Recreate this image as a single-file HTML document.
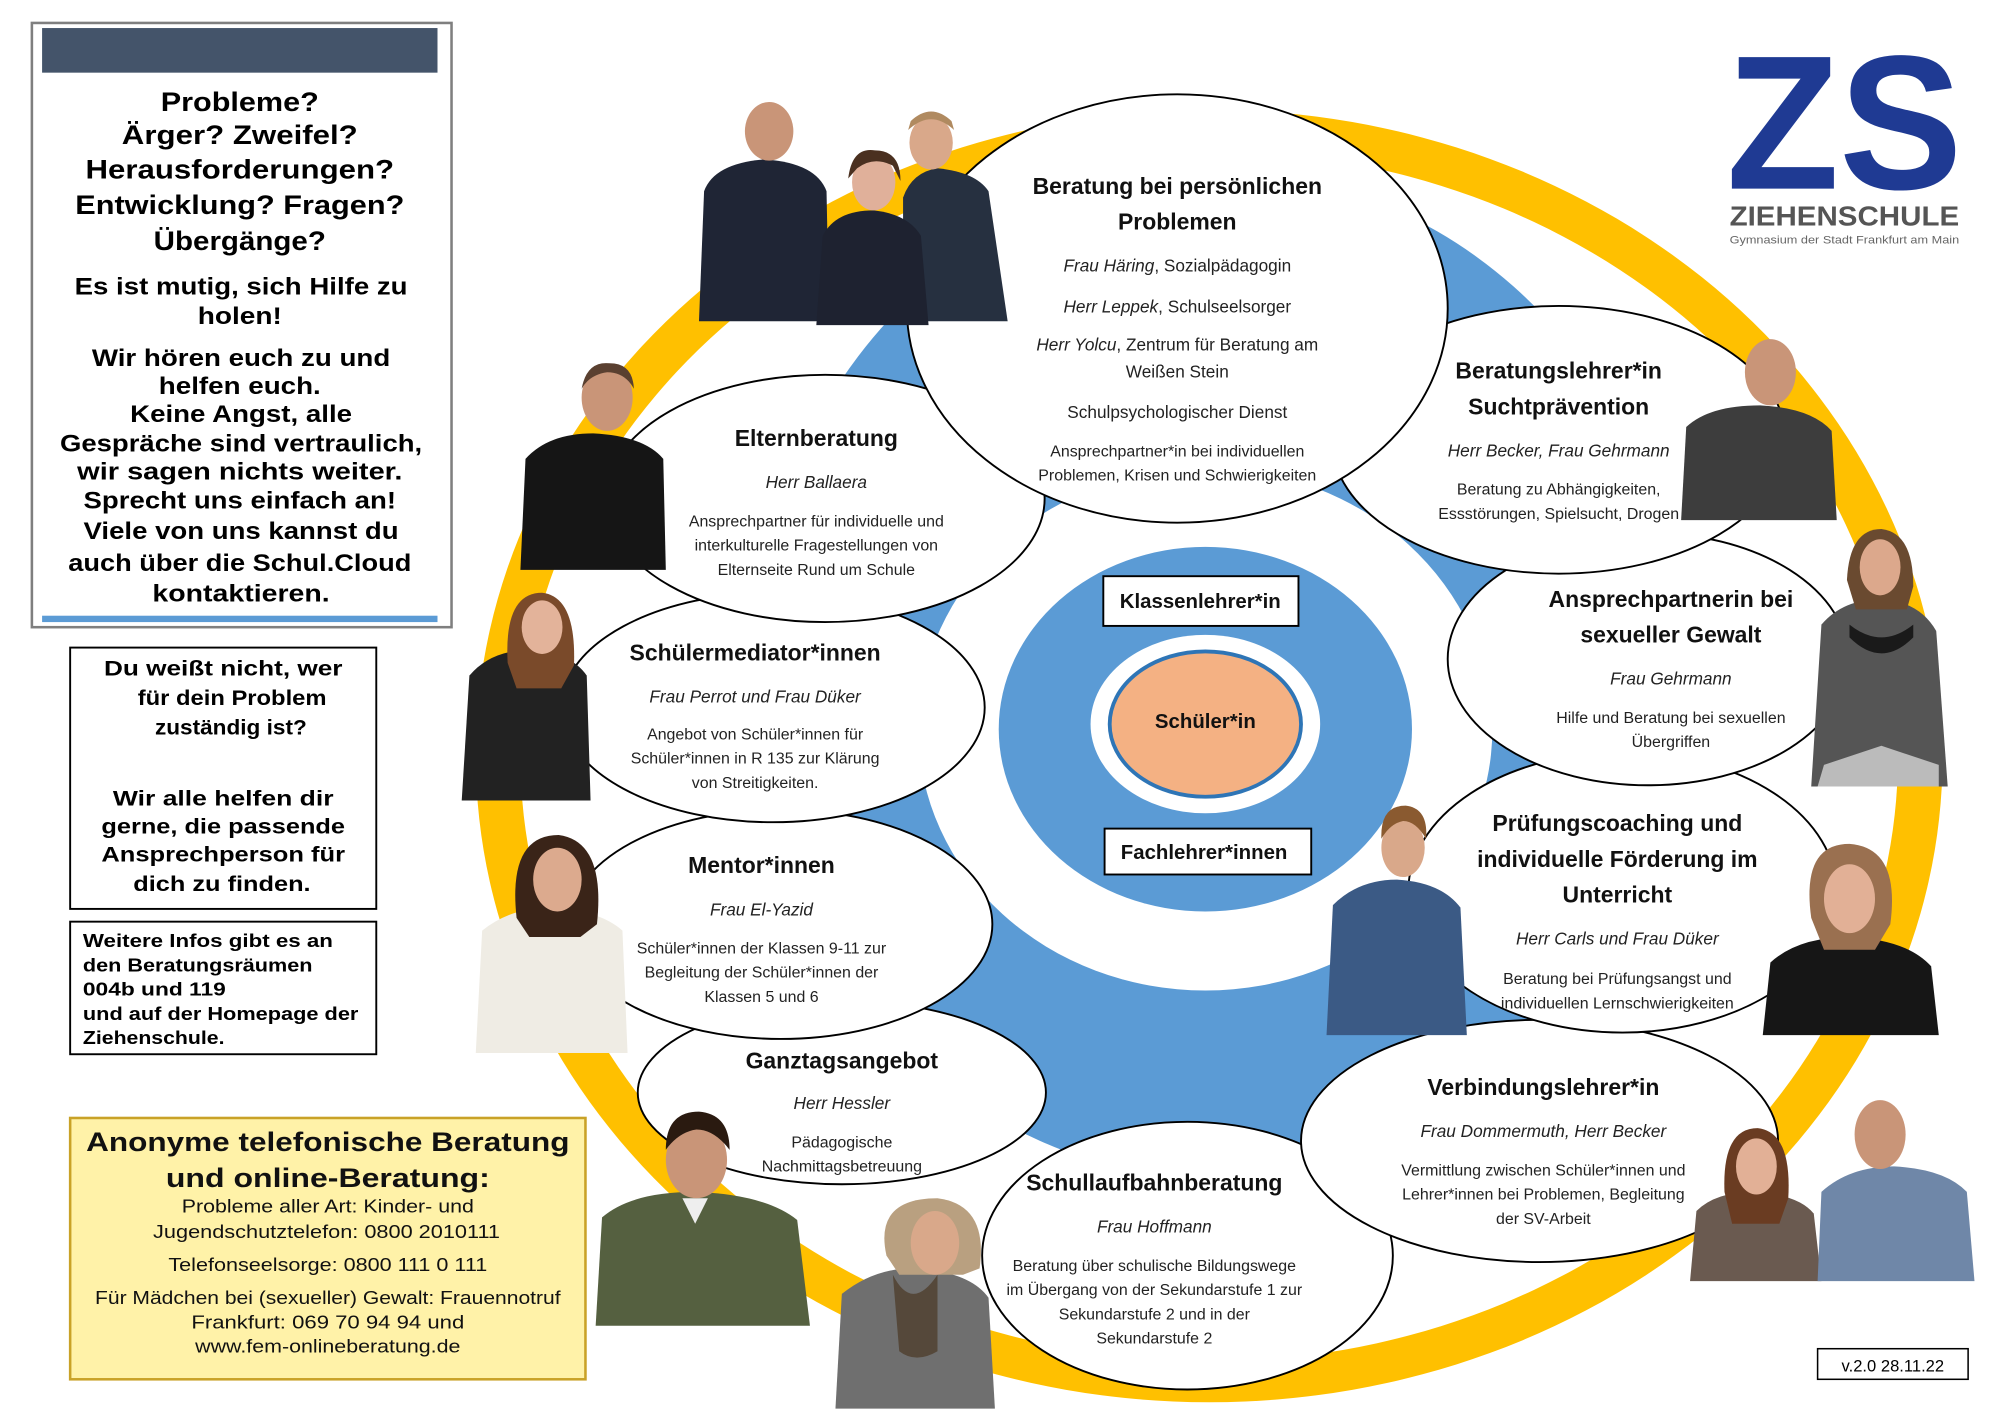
<!DOCTYPE html>
<html><head><meta charset="utf-8"><style>
html,body{margin:0;padding:0;background:#fff;}
svg{display:block;}
text{font-family:"Liberation Sans",sans-serif;}
.t{font-weight:bold;font-size:18px;text-anchor:middle;fill:#111;}
.n{font-style:italic;font-size:13.5px;text-anchor:middle;fill:#222;}
.d{font-size:12.5px;text-anchor:middle;fill:#222;}
.lb{font-weight:bold;font-size:21px;text-anchor:middle;fill:#000;}
.lb2{font-weight:bold;font-size:19px;text-anchor:middle;fill:#000;}
</style></head><body>
<svg width="2000" height="1415" viewBox="0 0 1568 1110" preserveAspectRatio="none" xmlns="http://www.w3.org/2000/svg">
<!-- ring -->
<ellipse cx="948" cy="593" rx="575" ry="507" fill="#ffc000"/>
<ellipse cx="948" cy="593" rx="540" ry="475" fill="#fff"/>
<ellipse cx="955" cy="530" rx="365" ry="395" fill="#5b9bd5"/>
<ellipse cx="945" cy="572" rx="225" ry="205" fill="#fff"/>
<ellipse cx="945" cy="572" rx="162" ry="143" fill="#5b9bd5"/>
<ellipse cx="945" cy="568" rx="90" ry="70" fill="#fff"/>
<ellipse cx="945" cy="568" rx="75" ry="57" fill="#f4b183" stroke="#2e75b6" stroke-width="3"/>
<text x="945" y="571" class="t" style="font-size:16px">Schüler*in</text>
<rect x="865" y="452" width="153" height="39" fill="#fff" stroke="#000" stroke-width="1.5"/>
<text x="941" y="477" class="t" style="font-size:16px">Klassenlehrer*in</text>
<rect x="866" y="650" width="162" height="36" fill="#fff" stroke="#000" stroke-width="1.5"/>
<text x="944" y="674" class="t" style="font-size:16px">Fachlehrer*innen</text>

<!-- ellipses -->
<g fill="#fff" stroke="#000" stroke-width="1.5">
<ellipse cx="660" cy="857" rx="160" ry="72"/>
<ellipse cx="931" cy="985" rx="161" ry="105"/>
<ellipse cx="1207" cy="895" rx="187" ry="95"/>
<ellipse cx="612" cy="725" rx="166" ry="90"/>
<ellipse cx="1272" cy="700" rx="168" ry="110"/>
<ellipse cx="606" cy="555" rx="166" ry="90"/>
<ellipse cx="1292" cy="517" rx="157" ry="99"/>
<ellipse cx="647" cy="391" rx="172" ry="97"/>
<ellipse cx="1222" cy="345" rx="178" ry="105"/>
<ellipse cx="923" cy="242" rx="212" ry="168"/>
</g>

<!-- texts in ellipses -->
<text x="923" y="152" class="t">Beratung bei persönlichen</text>
<text x="923" y="180" class="t">Problemen</text>
<text x="923" y="213" class="n">Frau Häring<tspan font-style="normal">, Sozialpädagogin</tspan></text>
<text x="923" y="245" class="n">Herr Leppek<tspan font-style="normal">, Schulseelsorger</tspan></text>
<text x="923" y="275" class="n">Herr Yolcu<tspan font-style="normal">, Zentrum für Beratung am</tspan></text>
<text x="923" y="296" class="d" style="font-size:13.5px">Weißen Stein</text>
<text x="923" y="328" class="d" style="font-size:13.5px">Schulpsychologischer Dienst</text>
<text x="923" y="358" class="d">Ansprechpartner*in bei individuellen</text>
<text x="923" y="377" class="d">Problemen, Krisen und Schwierigkeiten</text>

<text x="640" y="350" class="t">Elternberatung</text>
<text x="640" y="383" class="n">Herr Ballaera</text>
<text x="640" y="413" class="d">Ansprechpartner für individuelle und</text>
<text x="640" y="432" class="d">interkulturelle Fragestellungen von</text>
<text x="640" y="451" class="d">Elternseite Rund um Schule</text>

<text x="1222" y="297" class="t">Beratungslehrer*in</text>
<text x="1222" y="325" class="t">Suchtprävention</text>
<text x="1222" y="358" class="n">Herr Becker, Frau Gehrmann</text>
<text x="1222" y="388" class="d">Beratung zu Abhängigkeiten,</text>
<text x="1222" y="407" class="d">Essstörungen, Spielsucht, Drogen</text>

<text x="592" y="518" class="t">Schülermediator*innen</text>
<text x="592" y="551" class="n">Frau Perrot und Frau Düker</text>
<text x="592" y="580" class="d">Angebot von Schüler*innen für</text>
<text x="592" y="599" class="d">Schüler*innen in R 135 zur Klärung</text>
<text x="592" y="618" class="d">von Streitigkeiten.</text>

<text x="1310" y="476" class="t">Ansprechpartnerin bei</text>
<text x="1310" y="504" class="t">sexueller Gewalt</text>
<text x="1310" y="537" class="n">Frau Gehrmann</text>
<text x="1310" y="567" class="d">Hilfe und Beratung bei sexuellen</text>
<text x="1310" y="586" class="d">Übergriffen</text>

<text x="597" y="685" class="t">Mentor*innen</text>
<text x="597" y="718" class="n">Frau El-Yazid</text>
<text x="597" y="748" class="d">Schüler*innen der Klassen 9-11 zur</text>
<text x="597" y="767" class="d">Begleitung der Schüler*innen der</text>
<text x="597" y="786" class="d">Klassen 5 und 6</text>

<text x="1268" y="652" class="t">Prüfungscoaching und</text>
<text x="1268" y="680" class="t">individuelle Förderung im</text>
<text x="1268" y="708" class="t">Unterricht</text>
<text x="1268" y="741" class="n">Herr Carls und Frau Düker</text>
<text x="1268" y="772" class="d">Beratung bei Prüfungsangst und</text>
<text x="1268" y="791" class="d">individuellen Lernschwierigkeiten</text>

<text x="660" y="838" class="t">Ganztagsangebot</text>
<text x="660" y="870" class="n">Herr Hessler</text>
<text x="660" y="900" class="d">Pädagogische</text>
<text x="660" y="919" class="d">Nachmittagsbetreuung</text>

<text x="1210" y="859" class="t">Verbindungslehrer*in</text>
<text x="1210" y="892" class="n">Frau Dommermuth, Herr Becker</text>
<text x="1210" y="922" class="d">Vermittlung zwischen Schüler*innen und</text>
<text x="1210" y="941" class="d">Lehrer*innen bei Problemen, Begleitung</text>
<text x="1210" y="960" class="d">der SV-Arbeit</text>

<text x="905" y="934" class="t">Schullaufbahnberatung</text>
<text x="905" y="967" class="n">Frau Hoffmann</text>
<text x="905" y="997" class="d">Beratung über schulische Bildungswege</text>
<text x="905" y="1016" class="d">im Übergang von der Sekundarstufe 1 zur</text>
<text x="905" y="1035" class="d">Sekundarstufe 2 und in der</text>
<text x="905" y="1054" class="d">Sekundarstufe 2</text>

<!-- people -->
<g>
<path d="M548 252 L552 150 Q560 128 600 125 Q640 128 648 150 L650 252Z" fill="#1f2535"/>
<ellipse cx="603" cy="103" rx="19" ry="23" fill="#c99578"/>
<path d="M708 252 L708 155 Q715 135 735 132 Q765 135 775 150 L790 252Z" fill="#263040"/>
<ellipse cx="730" cy="112" rx="17" ry="21" fill="#d9a88a"/>
<path d="M712 102 Q730 85 748 102 L746 95 Q730 80 714 95Z" fill="#b08a60"/>
<path d="M640 255 L645 185 Q655 165 685 165 Q712 168 722 185 L728 255Z" fill="#1e2230"/>
<ellipse cx="685" cy="143" rx="17" ry="22" fill="#e0b09a"/>
<path d="M665 140 Q668 115 686 118 Q706 118 706 142 L700 130 Q685 122 672 132Z" fill="#4a3020"/>
<path d="M408 447 L412 360 Q430 340 465 340 Q505 342 520 360 L522 447Z" fill="#151515"/>
<ellipse cx="476" cy="312" rx="20" ry="26" fill="#c99578"/>
<path d="M456 305 Q460 283 478 285 Q496 285 497 305 Q490 292 476 292 Q462 294 456 305Z" fill="#5a4030"/>
<path d="M1318 408 L1322 335 Q1340 318 1380 318 Q1420 320 1436 338 L1440 408Z" fill="#3d3d3d"/>
<ellipse cx="1388" cy="292" rx="20" ry="26" fill="#c99578"/>
<path d="M362 628 L368 530 Q385 510 415 510 Q448 512 460 530 L463 628Z" fill="#222"/>
<path d="M398 520 Q395 465 425 465 Q452 468 450 522 L440 540 L405 540Z" fill="#7a4a2a"/>
<ellipse cx="425" cy="492" rx="16" ry="21" fill="#e3b39a"/>
<path d="M1420 617 L1428 490 Q1445 470 1475 470 Q1505 472 1518 495 L1527 617Z" fill="#555"/>
<path d="M1450 490 Q1475 510 1500 490 L1500 500 Q1475 525 1450 500Z" fill="#1a1a1a"/>
<path d="M1430 600 L1475 585 L1520 600 L1520 617 L1425 617Z" fill="#bbb"/>
<path d="M1448 455 Q1450 415 1475 415 Q1500 418 1500 460 L1495 478 L1455 478Z" fill="#6a4a30"/>
<ellipse cx="1474" cy="445" rx="16" ry="22" fill="#dca88c"/>
<path d="M373 826 L378 730 Q400 712 432 712 Q470 714 488 730 L492 826Z" fill="#efece4"/>
<path d="M405 720 Q398 655 438 655 Q475 660 468 725 L455 735 L415 735Z" fill="#3a2418"/>
<ellipse cx="437" cy="690" rx="19" ry="25" fill="#dcaa8e"/>
<path d="M1040 812 L1045 710 Q1065 690 1095 690 Q1130 692 1145 712 L1150 812Z" fill="#3b5a85"/>
<ellipse cx="1100" cy="665" rx="17" ry="23" fill="#d9a88a"/>
<path d="M1083 658 Q1082 632 1102 632 Q1120 634 1118 658 Q1110 644 1100 644 Q1090 646 1083 658Z" fill="#8a5a30"/>
<path d="M1382 812 L1388 755 Q1410 735 1450 735 Q1495 737 1514 758 L1520 812Z" fill="#161616"/>
<path d="M1420 720 Q1412 662 1450 662 Q1490 665 1482 725 L1470 745 L1430 745Z" fill="#9a7050"/>
<ellipse cx="1450" cy="705" rx="20" ry="27" fill="#e2b096"/>
<path d="M467 1040 L472 955 Q495 935 545 935 Q600 937 625 957 L635 1040Z" fill="#556040"/>
<path d="M535 940 L545 960 L555 940Z" fill="#eee"/>
<ellipse cx="546" cy="910" rx="24" ry="30" fill="#c99578"/>
<path d="M522 902 Q522 872 548 872 Q572 874 572 902 Q560 886 546 886 Q532 888 522 902Z" fill="#2a1a10"/>
<path d="M655 1105 L660 1015 Q685 995 715 995 Q760 997 775 1018 L780 1105Z" fill="#6f6f6f"/>
<path d="M700 1000 Q715 1030 735 1000 L735 1060 Q718 1070 705 1060Z" fill="#55483a"/>
<path d="M695 985 Q685 940 735 940 Q775 945 768 995 L755 1000 L705 1000Z" fill="#b9a080"/>
<ellipse cx="733" cy="975" rx="19" ry="25" fill="#d9a88a"/>
<path d="M1325 1005 L1330 950 Q1345 935 1375 935 Q1410 937 1422 952 L1428 1005Z" fill="#6a5a50"/>
<path d="M1352 935 Q1350 885 1378 885 Q1405 888 1402 940 L1395 960 L1358 960Z" fill="#6a3c22"/>
<ellipse cx="1377" cy="915" rx="16" ry="22" fill="#e2b096"/>
<path d="M1425 1005 L1428 935 Q1450 915 1485 915 Q1525 917 1542 935 L1548 1005Z" fill="#6f87a8"/>
<ellipse cx="1474" cy="890" rx="20" ry="27" fill="#c99578"/>
</g>

<!-- left box -->
<rect x="25" y="18" width="329" height="474" fill="#fff" stroke="#7f7f7f" stroke-width="2"/>
<rect x="33" y="22" width="310" height="35" fill="#44546a"/>
<rect x="33" y="483" width="310" height="5" fill="#5b9bd5"/>
<g lengthAdjust="spacingAndGlyphs">
<text x="188" y="87" class="lb" textLength="124" lengthAdjust="spacingAndGlyphs">Probleme?</text>
<text x="188" y="113" class="lb" textLength="185" lengthAdjust="spacingAndGlyphs">Ärger? Zweifel?</text>
<text x="188" y="140" class="lb" textLength="242" lengthAdjust="spacingAndGlyphs">Herausforderungen?</text>
<text x="188" y="168" class="lb" textLength="258" lengthAdjust="spacingAndGlyphs">Entwicklung? Fragen?</text>
<text x="188" y="196" class="lb" textLength="135" lengthAdjust="spacingAndGlyphs">Übergänge?</text>
<text x="189" y="231" class="lb2" textLength="261" lengthAdjust="spacingAndGlyphs">Es ist mutig, sich Hilfe zu</text>
<text x="188" y="254" class="lb2" textLength="66" lengthAdjust="spacingAndGlyphs">holen!</text>
<text x="189" y="287" class="lb2" textLength="234" lengthAdjust="spacingAndGlyphs">Wir hören euch zu und</text>
<text x="188" y="309" class="lb2" textLength="127" lengthAdjust="spacingAndGlyphs">helfen euch.</text>
<text x="189" y="331" class="lb2" textLength="174" lengthAdjust="spacingAndGlyphs">Keine Angst, alle</text>
<text x="189" y="354" class="lb2" textLength="284" lengthAdjust="spacingAndGlyphs">Gespräche sind vertraulich,</text>
<text x="188" y="376" class="lb2" textLength="255" lengthAdjust="spacingAndGlyphs">wir sagen nichts weiter.</text>
<text x="188" y="399" class="lb2" textLength="245" lengthAdjust="spacingAndGlyphs">Sprecht uns einfach an!</text>
<text x="189" y="423" class="lb2" textLength="247" lengthAdjust="spacingAndGlyphs">Viele von uns kannst du</text>
<text x="188" y="448" class="lb2" textLength="269" lengthAdjust="spacingAndGlyphs">auch über die Schul.Cloud</text>
<text x="189" y="472" class="lb2" textLength="139" lengthAdjust="spacingAndGlyphs">kontaktieren.</text>
</g>

<rect x="55" y="508" width="240" height="205" fill="#fff" stroke="#000" stroke-width="1.5"/>
<g style="font-weight:bold;font-size:17px;text-anchor:middle">
<text x="175" y="530" textLength="187" lengthAdjust="spacingAndGlyphs">Du weißt nicht, wer</text>
<text x="182" y="553" textLength="148" lengthAdjust="spacingAndGlyphs">für dein Problem</text>
<text x="181" y="576" textLength="119" lengthAdjust="spacingAndGlyphs">zuständig ist?</text>
<text x="175" y="632" textLength="173" lengthAdjust="spacingAndGlyphs">Wir alle helfen dir</text>
<text x="175" y="654" textLength="191" lengthAdjust="spacingAndGlyphs">gerne, die passende</text>
<text x="175" y="676" textLength="191" lengthAdjust="spacingAndGlyphs">Ansprechperson für</text>
<text x="174" y="699" textLength="139" lengthAdjust="spacingAndGlyphs">dich zu finden.</text>
</g>
<rect x="55" y="723" width="240" height="104" fill="#fff" stroke="#000" stroke-width="1.5"/>
<g style="font-weight:bold;font-size:14.5px">
<text x="65" y="743" textLength="196" lengthAdjust="spacingAndGlyphs">Weitere Infos gibt es an</text>
<text x="65" y="762" textLength="180" lengthAdjust="spacingAndGlyphs">den Beratungsräumen</text>
<text x="65" y="781" textLength="112" lengthAdjust="spacingAndGlyphs">004b und 119</text>
<text x="65" y="800" textLength="216" lengthAdjust="spacingAndGlyphs">und auf der Homepage der</text>
<text x="65" y="819" textLength="111" lengthAdjust="spacingAndGlyphs">Ziehenschule.</text>
</g>

<rect x="55" y="877" width="404" height="205" fill="#fff2a8" stroke="#c9a227" stroke-width="2"/>
<g style="text-anchor:middle;fill:#111">
<text x="257" y="903" style="font-weight:bold;font-size:21px" textLength="379" lengthAdjust="spacingAndGlyphs">Anonyme telefonische Beratung</text>
<text x="257" y="931" style="font-weight:bold;font-size:21px" textLength="254" lengthAdjust="spacingAndGlyphs">und online-Beratung:</text>
<text x="257" y="951" style="font-size:14.5px" textLength="229" lengthAdjust="spacingAndGlyphs">Probleme aller Art: Kinder- und</text>
<text x="256" y="971" style="font-size:14.5px" textLength="272" lengthAdjust="spacingAndGlyphs">Jugendschutztelefon: 0800  2010111</text>
<text x="257" y="997" style="font-size:14.5px" textLength="250" lengthAdjust="spacingAndGlyphs">Telefonseelsorge: 0800 111 0 111</text>
<text x="257" y="1023" style="font-size:14.5px" textLength="365" lengthAdjust="spacingAndGlyphs">Für Mädchen bei (sexueller) Gewalt: Frauennotruf</text>
<text x="257" y="1042" style="font-size:14.5px" textLength="214" lengthAdjust="spacingAndGlyphs">Frankfurt: 069  70 94 94 und</text>
<text x="257" y="1061" style="font-size:14.5px" textLength="208" lengthAdjust="spacingAndGlyphs">www.fem-onlineberatung.de</text>
</g>

<!-- logo -->
<text x="1446" y="148" style="font-weight:bold;font-size:150px;text-anchor:middle;fill:#1f3a93" textLength="185" lengthAdjust="spacingAndGlyphs">ZS</text>
<text x="1446" y="177" style="font-weight:bold;font-size:22px;text-anchor:middle;fill:#555" textLength="180" lengthAdjust="spacingAndGlyphs">ZIEHENSCHULE</text>
<text x="1446" y="191" style="font-size:8.5px;text-anchor:middle;fill:#666" textLength="180" lengthAdjust="spacingAndGlyphs">Gymnasium der Stadt Frankfurt am Main</text>

<rect x="1425" y="1058" width="118" height="24" fill="#fff" stroke="#000" stroke-width="1.2"/>
<text x="1484" y="1076" style="font-size:13px;text-anchor:middle">v.2.0 28.11.22</text>
</svg>
</body></html>
